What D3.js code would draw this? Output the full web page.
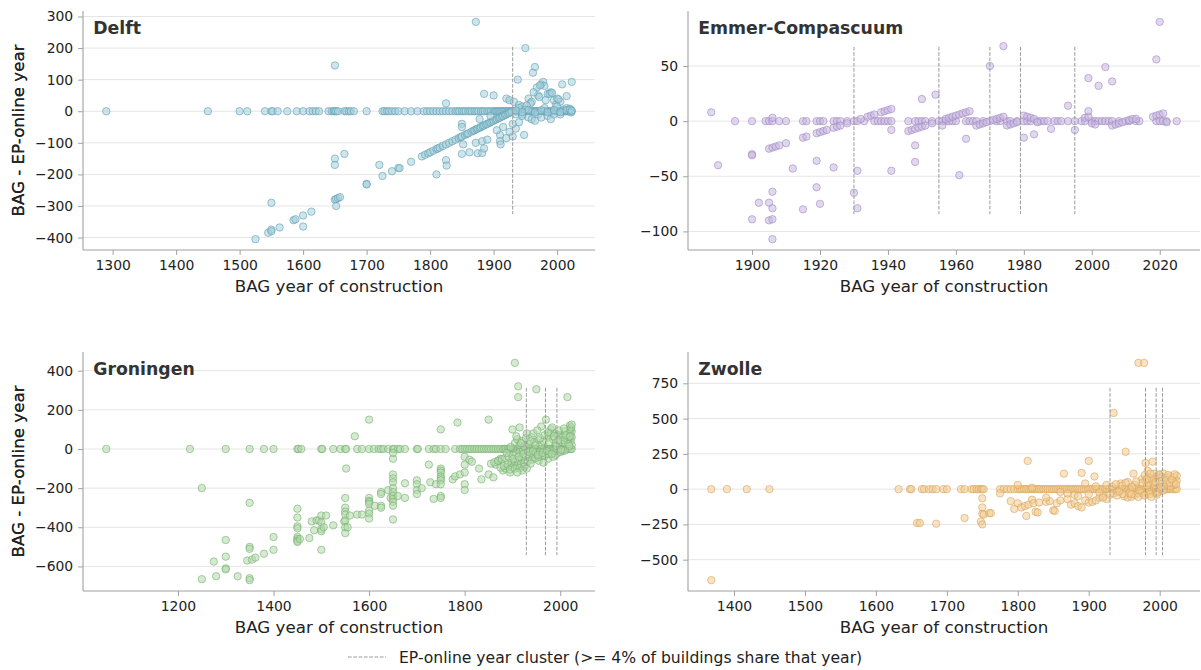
<!DOCTYPE html>
<html><head><meta charset="utf-8">
<script src="https://cdn.jsdelivr.net/npm/d3@7"></script>
<style>
body{margin:0;background:#fff;}
svg{display:block;font-family:"DejaVu Sans",sans-serif;}
</style></head>
<body><svg id="chart" width="1201" height="670"></svg>
<script>
// ---------------- DATA ----------------
const cityNames = ["Delft", "Emmer-Compascuum", "Groningen", "Zwolle"];

// Delft
const delftZeroYears = [1290,1450,1500,1512,1540,1550,1552,1560,1575,1590,1600,1610,1615,1620,1625,1640,1645,1648,1650,1652,1655,1665,1668,1672,1675,1680,1700,1725,1728,1732,1735,1740,1745,1750,1760,1770,1780,1790,1795,1800,1805,1810,1815,1820,1825,1830,1835,1840,1843,1846,1850,1853,1856,1860,1863,1866,1870,1873,1876,1880,1883,1886,1890,1893,1896,1900,1902,1904,1906,1908,1910,1912,1914,1916,1918,1920,1922,1924,1926,1928,1930,1932,1934,1936,1938,1940,1942,1944,1946,1948,1950,1952,1954,1956,1958,1960,1962,1964,1966,1968,1970,1972,1974,1976,1978,1980,1982,1984,1986,1988,1990,1992,1994,1996,1998,2000,2002,2004,2006,2008,2010,2012,2014,2016,2018,2020,2021,2022,2023];
const delftPoints = [[1872,283],[1950,200],[1650,145],[1965,140],[1962,122],[1938,100],[1968,75],[1975,85],[1978,93],[1980,80],[2008,85],[2023,93],[1885,55],[1900,50],[1825,25],[1920,40],[1925,35],[1932,30],[1955,40],[1960,30],[1985,55],[1990,60],[1995,35],[2000,40],[2015,48],[1970,50],[1940,20],[1945,15],[1958,25],[1972,45],[1982,35],[1988,55],[1998,20],[2005,30],[1963,60],[1973,82],[1992,58],[2002,38],[1952,18],
[1650,-150],[1650,-170],[1665,-135],[1720,-170],[1725,-205],[1700,-230],[1700,-232],[1740,-190],[1750,-180],[1752,-180],[1770,-160],[1650,-280],[1652,-278],[1655,-275],[1658,-272],[1652,-300],[1550,-290],[1525,-405],[1545,-385],[1550,-375],[1550,-380],[1563,-368],[1585,-345],[1588,-342],[1600,-330],[1600,-365],[1613,-318],
[1787,-143],[1792,-138],[1797,-133],[1800,-130],[1805,-125],[1810,-120],[1812,-118],[1815,-115],[1820,-110],[1825,-105],[1830,-100],[1835,-95],[1840,-90],[1845,-85],[1848,-82],[1850,-80],[1855,-75],[1858,-72],[1860,-70],[1865,-65],[1868,-62],[1870,-60],[1873,-57],[1875,-55],[1878,-52],[1880,-50],[1883,-47],[1885,-45],[1888,-42],[1890,-40],[1893,-37],[1895,-35],[1898,-32],[1900,-30],[1903,-27],[1905,-25],[1908,-22],[1910,-20],[1913,-17],[1915,-15],[1918,-12],[1920,-10],[1923,-7],[1925,-5],[1928,-2],
[1810,-200],[1825,-155],[1826,-172],[1850,-40],[1850,-50],[1852,-105],[1850,-135],[1862,-130],[1872,-100],[1875,-133],[1882,-95],[1882,-132],[1885,-118],[1890,-90],[1910,-75],[1910,-95],[1911,-105],[1920,-85],[1930,-80],[1925,-65],[1935,-55],[1940,-35],[1948,-75],[1945,-10],[1915,-50],[1930,-40],[1905,-60],[1878,-25],[1895,-15],
[1935,-10],[1940,10],[1945,-15],[1950,5],[1955,-20],[1960,-25],[1965,-30],[1970,-10],[1975,-20],[1980,10],[1985,-15],[1990,-25],[1995,-10],[2000,15],[2005,-10],[2010,5],[2015,10],[2020,8],[1935,3],[1945,-3],[1955,4],[1965,-4],[1975,3],[1985,-3],[1995,4],[2005,-3],[2015,3],[2020,5],[2022,-4],[2023,2]];
const delftClusters = [1930];
const delftXTicks = [1300,1400,1500,1600,1700,1800,1900,2000];
const delftYTicks = [-400,-300,-200,-100,0,100,200,300];

// Emmer-Compascuum
const emmerZeroYears = [1895,1900,1904,1905,1906,1908,1910,1915,1916,1919,1920,1921,1924,1925,1926,1928,1930,1931,1933,1936,1937,1938,1939,1940,1941,1946,1948,1949,1950,1951,1953,1955,1956,1957,1958,1959,1960,1963,1964,1965,1966,1968,1970,1972,1973,1975,1976,1978,1980,1981,1982,1984,1985,1986,1987,1989,1990,1991,1993,1995,1997,1998,2000,2001,2002,2003,2004,2005,2006,2008,2010,2011,2013,2014,2019,2020,2021,2022,2025];
const emmerPoints = [[1900,-30],[1900,-31],[1905,-25],[1906,-24],[1907,-23],[1910,-20],[1915,-15],[1916,-14],[1919,-11],[1920,-10],[1921,-9],[1922,-8],[1924,-6],[1925,-5],[1926,-4],[1928,-2],[1932,2],[1934,4],[1935,5],[1936,6],[1938,8],[1939,9],[1940,10],[1941,11],
[1946,-9],[1947,-8],[1948,-7],[1949,-6],[1950,-5],[1951,-4],[1953,-2],[1957,2],[1958,3],[1959,4],[1960,5],[1961,6],[1962,7],[1963,8],[1964,9],
[1966,-4],[1967,-3],[1968,-2],[1969,-1],[1971,1],[1972,2],[1973,3],[1974,4],[1975,-4],[1976,-3],[1977,-2],[1978,-1],[1980,5],[1981,4],[1982,3],[1983,2],[1984,-1],[1998,3],[1999,4],[1999,9],[2000,-2],[2001,-3],[2006,-4],[2007,-3],[2008,-2],[2009,-1],[2011,1],[2012,2],[2013,2],[2018,4],[2019,5],[2020,6],[2021,7],[2022,-1],
[1888,8],[1890,-40],[1900,-89],[1902,-74],[1905,-74],[1905,-90],[1906,-89],[1906,-79],[1906,-64],[1906,-107],[1906,3],[1908,-22],[1912,-43],[1915,-80],[1919,-36],[1919,-60],[1920,-75],[1924,-42],[1930,-65],[1931,-45],[1931,-79],[1941,-45],[1941,-8],[1948,-22],[1948,-37],[1950,20],[1954,24],[1956,-4],[1961,-49],[1963,-16],[1970,50],[1974,68],[1980,-15],[1983,-12],[1988,-7],[1993,14],[1995,-8],[1999,39],[2002,32],[2004,49],[2006,36],[2019,56],[2020,90]];
const emmerClusters = [1930,1955,1970,1979,1995];
const emmerXTicks = [1900,1920,1940,1960,1980,2000,2020];
const emmerYTicks = [-100,-50,0,50];

// Groningen
const groningenZeroYears = [1050,1225,1300,1350,1380,1400,1450,1452,1458,1500,1502,1525,1540,1550,1552,1575,1585,1600,1610,1620,1625,1630,1640,1650,1652,1660,1665,1675,1700,1702,1725,1735,1740,1750,1760,1780,1790,1795,1800,1805,1810,1815,1820,1825,1830,1835,1840,1845,1850,1855,1860,1865,1870,1875,1880,1883,1886,1890,1893,1896,1900,1903,1906,1909,1912,1915,1918,1921,1924,1927,1930,1933,1936,1939,1942,1945,1948,1951,1954,1957,1960,1963,1966,1969,1972,1975,1978,1981,1984,1987,1990,1993,1996,1999,2002,2005,2008,2011,2014,2017,2020,2022,2024];
const groningenPoints = [[1250,-200],[1350,-275],[1300,-465],[1300,-550],[1300,-610],[1300,-615],[1275,-575],[1280,-650],[1250,-665],[1325,-650],[1350,-500],[1350,-510],[1350,-660],[1350,-670],[1345,-570],[1355,-565],[1362,-555],[1380,-535],[1400,-450],[1400,-515],[1450,-305],[1450,-350],[1450,-395],[1450,-405],[1450,-450],[1450,-460],[1450,-470],[1450,-475],[1455,-460],[1475,-455],[1480,-370],[1485,-415],[1490,-365],[1495,-365],[1500,-340],[1500,-375],[1500,-410],[1500,-420],[1500,-515],[1505,-400],[1510,-340],[1525,-390],[1548,-370],[1550,-250],[1550,-300],[1550,-320],[1550,-335],[1550,-365],[1550,-400],[1550,-430],[1552,-100],[1555,-400],[1560,-340],[1570,65],[1575,-335],[1585,-335],[1600,150],[1600,-250],[1600,-265],[1600,-270],[1600,-280],[1600,-315],[1600,-330],[1600,-355],[1612,-290],[1625,-220],[1625,-230],[1625,-290],[1625,-300],[1640,-210],[1645,-250],[1650,-50],[1650,-20],[1650,-130],[1650,-150],[1650,-170],[1650,-200],[1650,-220],[1650,-240],[1650,-255],[1650,-270],[1650,-290],[1650,-360],[1660,-240],[1675,-175],[1675,-250],[1700,-160],[1700,-180],[1700,-210],[1700,-230],[1710,-200],[1725,-80],[1728,-170],[1735,-255],[1740,-180],[1750,-100],[1750,-110],[1750,-120],[1750,-140],[1750,-150],[1750,-160],[1750,-180],[1750,-240],[1750,-250],[1750,100],[1775,-155],[1780,-140],[1785,135],[1790,-130],[1800,-40],[1800,-80],[1800,-120],[1800,-180],[1800,-210],[1810,-55],[1815,-65],[1830,-100],[1835,-155],[1850,150],[1850,-130],[1860,-145],[1865,-80],[1870,-60],[1875,-50],[1880,-110],[1885,-100],[1890,-90],[1895,-120],[1900,-80],[1900,100],[1905,440],[1912,320],[1912,265],[1915,110],[1920,-90],[1950,305],[1955,-60],[1960,115],[1970,150],[1975,-50],[1980,100],[2015,265],[2020,120],[2022,100],[2024,60],[1990,80],[2000,70],[2010,90],[1930,80],[1940,60],[1945,-40],[1965,-70],[1985,-40],[1995,-20],[2005,-10],
[1855,-75],[1862,-68],[1870,-60],[1878,-52],[1885,-45],[1892,-38],[1900,-30],[1908,-22],[1915,-15],[1922,-8],[1875,-95],[1882,-88],[1890,-80],[1898,-72],[1905,-65],[1912,-58],[1920,-50],[1928,-42],[1935,-35],[1942,-28],[1950,-20],[1958,-12],[1965,-5],[1900,-95],[1910,-85],[1918,-77],[1925,-70],[1932,-63],[1940,-55],[1948,-47],[1955,-40],[1962,-33],[1970,-25],[1978,-17],[1985,-10],[1992,-3],[1895,-105],[1905,-100],[1915,-98],[1925,-90],[1938,-75],
[1905,30],[1910,50],[1915,20],[1920,40],[1925,15],[1935,25],[1945,35],[1955,45],[1960,20],[1965,40],[1975,60],[1980,80],[1985,50],[1990,30],[1995,70],[2000,40],[2005,60],[2010,30],[2015,50],[2020,80],[2022,40],[2024,20],[2024,90],[2020,100],[2018,60],[1968,-35],[1975,-25],[1990,-30],[2000,-15],[2010,-8],
[1888,-20],[1896,10],[1902,-50],[1908,65],[1913,-40],[1918,30],[1923,-25],[1928,55],[1933,-15],[1938,40],[1943,-10],[1948,20],[1953,-30],[1958,55],[1963,-20],[1967,70],[1972,-10],[1977,35],[1982,-25],[1987,65],[1992,15],[1997,95],[2002,-5],[2007,45],[2012,70],[2017,25],[2021,65],[2023,110],[2024,125],[2019,15],[1944,80],[1952,95],[1974,85],[1983,110],[1996,45],[2008,105],[1920,-110],[1930,-100],[1910,-120]];
const groningenClusters = [1929,1969,1993];
const groningenXTicks = [1200,1400,1600,1800,2000];
const groningenYTicks = [-600,-400,-200,0,200,400];

// Zwolle
const zwolleZeroYears = [1368,1390,1418,1450,1632,1648,1650,1665,1668,1675,1680,1685,1695,1700,1720,1725,1735,1738,1742,1745,1748,1750,1752,1775,1780,1785,1790,1795,1800,1803,1806,1809,1812,1815,1818,1821,1824,1827,1830,1833,1836,1839,1842,1845,1848,1851,1854,1857,1860,1863,1866,1869,1872,1875,1878,1881,1884,1887,1890,1893,1896,1899,1902,1905,1908,1911,1914,1917,1920,1923,1926,1929,1932,1935,1938,1941,1944,1947,1950,1953,1956,1959,1962,1965,1968,1971,1974,1977,1980,1983,1986,1989,1992,1995,1998,2001,2004,2007,2010,2013,2016,2019,2022,2024];
const zwollePoints = [[1368,-645],[1970,895],[1978,895],[1935,540],[1952,265],[1814,200],[1900,200],[1980,185],[1990,195],[1865,110],[1890,115],[1908,90],[1963,110],[1750,-65],[1750,-130],[1750,-175],[1752,-180],[1748,-230],[1750,-250],[1760,-170],[1762,-170],[1725,-205],[1658,-240],[1662,-240],[1685,-245],[1790,-85],[1795,-140],[1800,-100],[1805,-130],[1810,-120],[1812,-190],[1815,-110],[1820,-75],[1822,-100],[1825,-160],[1828,-165],[1830,-95],[1840,-90],[1845,-85],[1850,-150],[1852,-155],[1855,-100],[1860,-80],[1870,-70],[1875,-110],[1880,-100],[1885,-120],[1890,-130],[1895,-80],[1900,-95],[1905,-90],[1910,-80],[1915,-60],[1920,-50],[1925,-70],[1930,-40],[1935,-30],[1940,-20],[1950,-50],[1955,-60],[1960,-55],[1965,-40],[1970,-30],[1980,-40],[1990,-25],[2000,-15],[1800,30],[1820,10],[1860,-20],[1880,-40],[1895,40],[1910,20],[1925,30],[1945,40],[1955,50],[1965,30],[1975,70],[1985,80],[1990,60],[1995,90],[2000,100],[2005,110],[2010,80],[2015,90],[2020,85],[2024,60],[2024,95],[1983,130],[1998,75],[2010,40],[2020,30],[1775,-30],[1840,-60],[1870,-30],[1885,-50],[1900,-35],[1915,-25],[1920,-60],[1940,-45],[1948,-35],[1958,-20],[1975,-25],[1985,-20],[1995,-30],[2005,-10],[2015,20],[2020,45],[1980,60],[1988,40],[1992,110],
[1933,20],[1938,35],[1943,-15],[1947,25],[1952,45],[1957,-30],[1961,15],[1967,55],[1972,-15],[1976,45],[1979,100],[1982,25],[1986,-35],[1989,75],[1993,30],[1997,-20],[2001,55],[2003,85],[2006,25],[2009,65],[2012,100],[2014,45],[2017,70],[2021,105],[2023,35],[1982,70],[1987,110],[1994,50],[1999,105],[2002,15],[1960,-35],[1970,-55],[1978,-45],[1988,-55],[1996,-40]];
const zwolleClusters = [1930,1980,1995,2004];
const zwolleXTicks = [1400,1500,1600,1700,1800,1900,2000];
const zwolleYTicks = [-500,-250,0,250,500,750];

const legendLabel = "EP-online year cluster (>= 4% of buildings share that year)";
const xAxisLabel = "BAG year of construction";
const yAxisLabel = "BAG - EP-online year";

// ---------------- LAYOUT / STYLE ----------------
const panels = [
  {name: cityNames[0], zero: delftZeroYears, pts: delftPoints, clusters: delftClusters, xt: delftXTicks, yt: delftYTicks,
   left: 83, top: 11, fill: "#a6d0dc", stroke: "#5e9db1"},
  {name: cityNames[1], zero: emmerZeroYears, pts: emmerPoints, clusters: emmerClusters, xt: emmerXTicks, yt: emmerYTicks,
   left: 688, top: 11, fill: "#c8b8de", stroke: "#a088c6"},
  {name: cityNames[2], zero: groningenZeroYears, pts: groningenPoints, clusters: groningenClusters, xt: groningenXTicks, yt: groningenYTicks,
   left: 83, top: 352, fill: "#b3d8ab", stroke: "#76ae6e"},
  {name: cityNames[3], zero: zwolleZeroYears, pts: zwollePoints, clusters: zwolleClusters, xt: zwolleXTicks, yt: zwolleYTicks,
   left: 688, top: 352, fill: "#f3ce96", stroke: "#d7a25b"}
];
const W = 512, H = 239;
const tickFont = "13.9px", labelFont = "16.7px", legendFont = "15.6px";

const svg = d3.select("#chart");

function pad(ext){ const r = ext[1]-ext[0]; return [ext[0]-0.05*r, ext[1]+0.05*r]; }

panels.forEach(p => {
  const data = p.zero.map(x => [x, 0]).concat(p.pts);
  const x = d3.scaleLinear().domain(pad(d3.extent(data, d => d[0]))).range([0, W]);
  const y = d3.scaleLinear().domain(pad(d3.extent(data, d => d[1]))).range([H, 0]);
  const g = svg.append("g").attr("transform", `translate(${p.left},${p.top})`);

  // grid
  g.append("g").selectAll("line").data(p.yt).join("line")
    .attr("x1", 0).attr("x2", W).attr("y1", d => y(d)).attr("y2", d => y(d))
    .attr("stroke", "#e5e5e5").attr("stroke-width", 1);

  // points
  g.append("g").selectAll("circle").data(data).join("circle")
    .attr("cx", d => x(d[0])).attr("cy", d => y(d[1])).attr("r", 3.7)
    .attr("fill", p.fill).attr("fill-opacity", 0.55)
    .attr("stroke", p.stroke).attr("stroke-opacity", 0.75).attr("stroke-width", 0.8);

  // cluster lines (axvline ymin 0.15 .. ymax 0.85)
  g.append("g").selectAll("line").data(p.clusters).join("line")
    .attr("x1", d => x(d)).attr("x2", d => x(d))
    .attr("y1", H*0.15).attr("y2", H*0.85)
    .attr("stroke", "#9a9a9a").attr("stroke-width", 1).attr("stroke-dasharray", "3.7,1.6");

  // axes
  const xa = g.append("g").attr("transform", `translate(0,${H})`)
    .call(d3.axisBottom(x).tickValues(p.xt).tickFormat(d3.format("d")).tickSize(4.9).tickPadding(4.9));
  const ya = g.append("g")
    .call(d3.axisLeft(y).tickValues(p.yt).tickFormat(d3.format("d")).tickSize(4.9).tickPadding(4.9));
  [xa, ya].forEach(a => {
    a.select(".domain").attr("stroke", "#a0a0a0").attr("stroke-width", 1.1);
    a.selectAll(".tick line").attr("stroke", "#a0a0a0");
    a.selectAll(".tick text").attr("fill", "#222").style("font-size", tickFont).style("font-family", "DejaVu Sans");
  });
  xa.select(".domain").attr("d", `M0,0H${W}`);
  ya.select(".domain").attr("d", `M0,0V${H}`);

  // axis labels
  g.append("text").attr("x", W/2).attr("y", H + 42).attr("text-anchor", "middle")
    .style("font-size", labelFont).attr("fill", "#222").text(xAxisLabel);
  g.append("text").attr("transform", `translate(${-p.left + 18},${H/2}) rotate(-90)`)
    .attr("text-anchor", "middle").attr("dominant-baseline", "central")
    .style("font-size", labelFont).attr("fill", "#222").text(yAxisLabel);

  // title
  g.append("text").attr("x", 0.02*W).attr("y", 22.5)
    .style("font-size", "17.3px").style("font-weight", "bold").attr("fill", "#333").text(p.name);
});

// legend
const lg = svg.append("g");
lg.append("line").attr("x1", 348).attr("x2", 386).attr("y1", 657).attr("y2", 657)
  .attr("stroke", "#9a9a9a").attr("stroke-width", 1).attr("stroke-dasharray", "3.7,1.6");
lg.append("text").attr("x", 399).attr("y", 662.5).style("font-size", legendFont).attr("fill", "#222").text(legendLabel);
</script>
</body></html>
